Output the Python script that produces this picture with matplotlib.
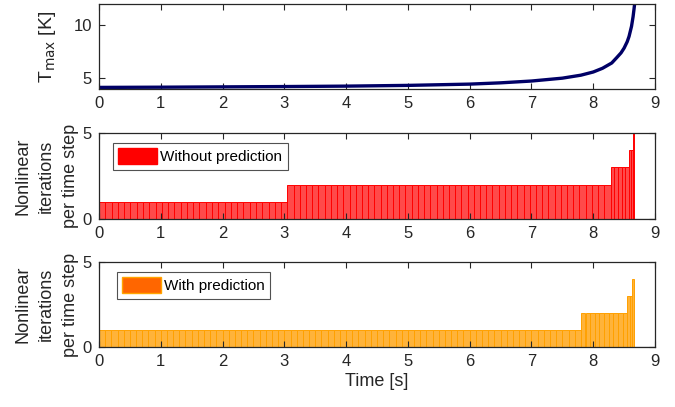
import numpy as np
import matplotlib
matplotlib.use("Agg")
import matplotlib.pyplot as plt
from matplotlib.patches import Patch

plt.rcParams['font.family'] = ['Liberation Sans', 'DejaVu Sans']
plt.rcParams['font.size'] = 11

# Maximum temperature over time
t_temp = [0, 1, 2, 3, 4, 5, 6, 6.5, 7, 7.5, 7.8, 8.0, 8.15, 8.3, 8.38,
          8.45, 8.5, 8.55, 8.58, 8.62, 8.645, 8.66, 8.67]
T_max = [4.15, 4.17, 4.2, 4.23, 4.27, 4.34, 4.46, 4.58, 4.75, 5.02, 5.3,
         5.6, 5.95, 6.45, 6.95, 7.4, 7.85, 8.45, 8.95, 9.9, 10.8, 11.5, 12.0]

# Nonlinear iteration counts: (segment start, segment end, iterations, step size)
without_pred = [(0.0, 3.05, 1, 0.1), (3.05, 8.28, 2, 0.1), (8.28, 8.58, 3, 0.06),
                (8.58, 8.65, 4, 0.035), (8.65, 8.665, 5, 0.015)]
with_pred = [(0.0, 7.80, 1, 0.1), (7.80, 8.55, 2, 0.075), (8.55, 8.63, 3, 0.04),
             (8.63, 8.66, 4, 0.03)]

x_ticks = list(range(10))


def expand_steps(segments):
    starts, widths, vals = [], [], []
    for a, b, v, dt in segments:
        n = max(1, int(round((b - a) / dt)))
        edges = np.linspace(a, b, n + 1)
        starts.extend(edges[:-1])
        widths.extend(np.diff(edges))
        vals.extend([v] * n)
    return starts, widths, vals


fig = plt.figure(figsize=(6.75, 4.07), dpi=100)
W, H = 675, 407


def add_ax(left, top, right, bottom):
    return fig.add_axes([left / W, 1 - bottom / H, (right - left) / W, (bottom - top) / H])


ax1 = add_ax(99, 4, 655, 89)
ax2 = add_ax(99, 133, 655, 219)
ax3 = add_ax(99, 262, 655, 347)

for ax in (ax1, ax2, ax3):
    ax.set_xlim(0, 9)
    ax.set_xticks(x_ticks)
    ax.tick_params(direction='in', top=True, right=True, length=4,
                   width=0.8, colors='#262626', labelsize=12, pad=5)
    for s in ax.spines.values():
        s.set_color('#262626')
        s.set_linewidth(0.9)

ax1.plot(t_temp, T_max, color='#000066', lw=2.4, solid_capstyle='butt')
ax1.set_ylim(4, 12)
ax1.set_yticks([5, 10])
ax1.set_ylabel(r'T$_{\rm max}$ [K]', fontsize=14, color='#262626', labelpad=11)


def draw_bars(ax, segments, face, edge, label, legend_face, legend_edge, legend_pos):
    s, w, v = expand_steps(segments)
    ax.bar(s, v, width=w, align='edge', color=face, edgecolor=edge, linewidth=0.7)
    ax.axhline(0, color='#bbbbbb', lw=1.0, zorder=0.5)
    ax.set_ylim(0, 5)
    ax.set_yticks([0, 5])
    ax.set_ylabel('Nonlinear\niterations\nper time step', fontsize=13,
                  color='#262626', labelpad=3, linespacing=1.5)
    h = Patch(facecolor=legend_face, edgecolor=legend_edge, label=label)
    leg = ax.legend(handles=[h], loc='upper left', bbox_to_anchor=legend_pos,
                    fontsize=11, frameon=True, fancybox=False, handlelength=2.5,
                    handleheight=1.2, borderpad=0.35, handletextpad=0.25,
                    borderaxespad=0)
    leg.get_frame().set_edgecolor('#262626')
    leg.get_frame().set_linewidth(0.8)


draw_bars(ax2, without_pred, '#ff4a4a', '#ff0000', 'Without prediction',
          '#ff0000', '#ff0000', ((113 - 99) / 556, 1 - (143 - 133) / 86))
draw_bars(ax3, with_pred, '#ffb33a', '#ffa000', 'With prediction',
          '#ff6600', '#ffa500', ((117 - 99) / 556, 1 - (272 - 262) / 85))

ax3.set_xlabel('Time [s]', fontsize=13, color='#262626', labelpad=3)

fig.savefig('out.png', dpi=100)
